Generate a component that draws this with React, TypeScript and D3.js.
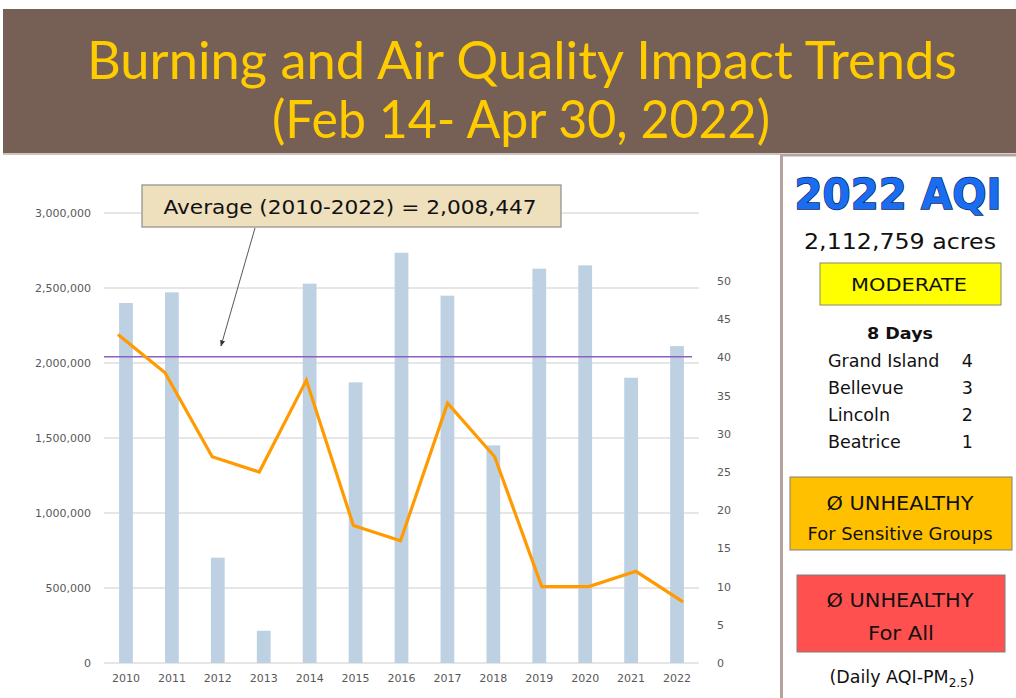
import React, { useEffect, useRef } from "react";
import * as d3 from "d3";

const years = ["2010", "2011", "2012", "2013", "2014", "2015", "2016", "2017", "2018", "2019", "2020", "2021", "2022"];
const acresBurned = [2400000, 2471000, 702000, 215000, 2529000, 1871000, 2735000, 2449000, 1451000, 2629000, 2651000, 1902000, 2112759];
const aqiDays = [43, 38, 27, 25, 37, 18, 16, 34, 27, 10, 10, 12, 8];
const leftTicks = [0, 500000, 1000000, 1500000, 2000000, 2500000, 3000000];
const rightTicks = [0, 5, 10, 15, 20, 25, 30, 35, 40, 45, 50];
const avgLabel = "Average (2010-2022) = 2,008,447";
const avgLineValue = 2042000;
const cities = ["Grand Island", "Bellevue", "Lincoln", "Beatrice"];
const cityDays = [4, 3, 2, 1];

const W = 1016;
const H = 698;
const plot = { left: 104, right: 700, top: 213, bottom: 663 };
const bodyFont = "'DejaVu Sans', Lato, sans-serif";
const titleFont = "Lato, 'DejaVu Sans', sans-serif";

const Axis = ({ scale, kind, transform }: any) => {
  const ref = useRef<SVGGElement>(null);
  useEffect(() => {
    const g = d3.select(ref.current);
    let axis;
    if (kind === "left") {
      axis = d3.axisLeft(scale).tickValues(leftTicks).tickFormat(d3.format(",")).tickSize(0).tickPadding(13);
    } else if (kind === "right") {
      axis = d3.axisRight(scale).tickValues(rightTicks).tickSize(0).tickPadding(13);
    } else {
      axis = d3.axisBottom(scale).tickSize(0).tickPadding(11);
    }
    g.call(axis);
    g.select(".domain").remove();
    g.selectAll("text")
      .attr("fill", "#595959")
      .style("font-family", bodyFont)
      .style("font-size", "11px");
  });
  return <g ref={ref} transform={transform} />;
};

const Label = ({ x, y, w, size, anchor = "middle", weight = "normal", children }: any) => (
  <text
    x={x}
    y={y}
    textAnchor={anchor}
    fontSize={size}
    fontWeight={weight}
    fill="#111"
    fontFamily={bodyFont}
    textLength={w}
    lengthAdjust="spacingAndGlyphs"
  >
    {children}
  </text>
);

const App = () => {
  const x = d3.scaleBand().domain(years).range([plot.left - 1, plot.right]).paddingInner(0.7).paddingOuter(0.35);
  const xLine = d3.scalePoint().domain(years).range([118, 683]);
  const yLeft = d3.scaleLinear().domain([0, 3000000]).range([plot.bottom, plot.top]);
  const yRight = d3.scaleLinear().domain([0, 58.9]).range([plot.bottom, plot.top]);

  const line = d3
    .line<number>()
    .x((d, i) => xLine(years[i]) as number)
    .y(d => yRight(d));

  const last = years.length - 1;

  return (
    <svg width={W} height={H} style={{ position: "absolute", left: 0, top: 0 }}>
      <rect x={0} y={0} width={W} height={H} fill="#ffffff" />

      {/* header */}
      <rect x={3} y={9} width={W - 3} height={144} fill="#765f55" />
      <text x={522} y={79} textAnchor="middle" fill="#ffcc00" fontSize={53} fontFamily={titleFont}
        textLength={870} lengthAdjust="spacingAndGlyphs">
        Burning and Air Quality Impact Trends
      </text>
      <text x={521} y={138} textAnchor="middle" fill="#ffcc00" fontSize={53} fontFamily={titleFont}
        textLength={498} lengthAdjust="spacingAndGlyphs">
        (Feb 14- Apr 30, 2022)
      </text>
      <line x1={3} x2={780} y1={154} y2={154} stroke="#cfc3be" strokeWidth={2} />

      {/* gridlines */}
      {leftTicks.map(t => (
        <line key={t} x1={plot.left} x2={plot.right - 1} y1={yLeft(t)} y2={yLeft(t)} stroke="#dedede" strokeWidth={1.3} />
      ))}

      {/* bars */}
      {years.map((yr, i) => (
        <rect
          key={yr}
          x={x(yr)}
          y={yLeft(acresBurned[i])}
          width={x.bandwidth()}
          height={plot.bottom - yLeft(acresBurned[i])}
          fill="#bed1e3"
        />
      ))}

      <line x1={plot.left} x2={692} y1={yLeft(avgLineValue)} y2={yLeft(avgLineValue)} stroke="#8e5fc0" strokeWidth={1.5} />

      <path d={line(aqiDays) as string} fill="none" stroke="#ff9a00" strokeWidth={3.2} strokeLinejoin="miter" />

      <Axis scale={yLeft} kind="left" transform={`translate(${plot.left},0)`} />
      <Axis scale={yRight} kind="right" transform={`translate(704,0)`} />
      <Axis scale={x} kind="bottom" transform={`translate(0,${plot.bottom})`} />

      {/* annotation */}
      <defs>
        <marker id="arrow" viewBox="0 0 10 10" refX={9} refY={5} markerWidth={7} markerHeight={7} orient="auto">
          <path d="M0,1 L10,5 L0,9 Z" fill="#333" />
        </marker>
      </defs>
      <line x1={255} y1={228} x2={221} y2={346} stroke="#444" strokeWidth={0.9} markerEnd="url(#arrow)" />
      <rect x={142} y={185} width={419} height={42} fill="#efe0bd" stroke="#8c8c8c" strokeWidth={1.2} />
      <Label x={350} y={214} w={373} size={20}>{avgLabel}</Label>

      {/* right panel */}
      <rect x={781.5} y={155} width={W} height={H} fill="#ffffff" stroke="#b3a49e" strokeWidth={3} />
      <text
        x={898}
        y={209}
        textAnchor="middle"
        fontSize={42}
        fontWeight="bold"
        fontFamily={bodyFont}
        fill="#1a6cf0"
        stroke="#0d2a5e"
        strokeWidth={1.5}
        style={{ paintOrder: "stroke" }}
        textLength={207}
        lengthAdjust="spacingAndGlyphs"
      >
        {years[last]} AQI
      </text>
      <Label x={900} y={249} w={192} size={21}>
        {d3.format(",")(acresBurned[last])} acres
      </Label>

      <rect x={820} y={263} width={181} height={42} fill="#ffff00" stroke="#8a8a6a" strokeWidth={1} />
      <Label x={909} y={291} w={116} size={18}>MODERATE</Label>

      <Label x={900} y={339} w={66} size={16} weight="bold">{aqiDays[last]} Days</Label>
      {cities.map((c, i) => (
        <g key={c}>
          <text x={828} y={367 + i * 27} fontSize={17.5} fill="#111" fontFamily={bodyFont}>
            {c}
          </text>
          <text x={973} y={367 + i * 27} textAnchor="end" fontSize={17.5} fill="#111" fontFamily={bodyFont}>
            {cityDays[i]}
          </text>
        </g>
      ))}

      <rect x={790} y={477} width={222} height={73} fill="#ffc000" stroke="#7f7f7f" strokeWidth={1} />
      <Label x={900} y={510} w={147} size={19}>Ø UNHEALTHY</Label>
      <Label x={900} y={540} w={185} size={17}>For Sensitive Groups</Label>

      <rect x={797} y={575} width={208} height={77} fill="#ff5050" stroke="#7f7f7f" strokeWidth={1} />
      <Label x={900} y={607} w={147} size={19}>Ø UNHEALTHY</Label>
      <Label x={901} y={640} w={66} size={19}>For All</Label>

      <text x={902} y={683} textAnchor="middle" fontSize={17.5} fill="#111" fontFamily={bodyFont}>
        (Daily AQI-PM
        <tspan fontSize={12} dy={4}>2.5</tspan>
        <tspan dy={-4}>)</tspan>
      </text>
    </svg>
  );
};

export default App;
